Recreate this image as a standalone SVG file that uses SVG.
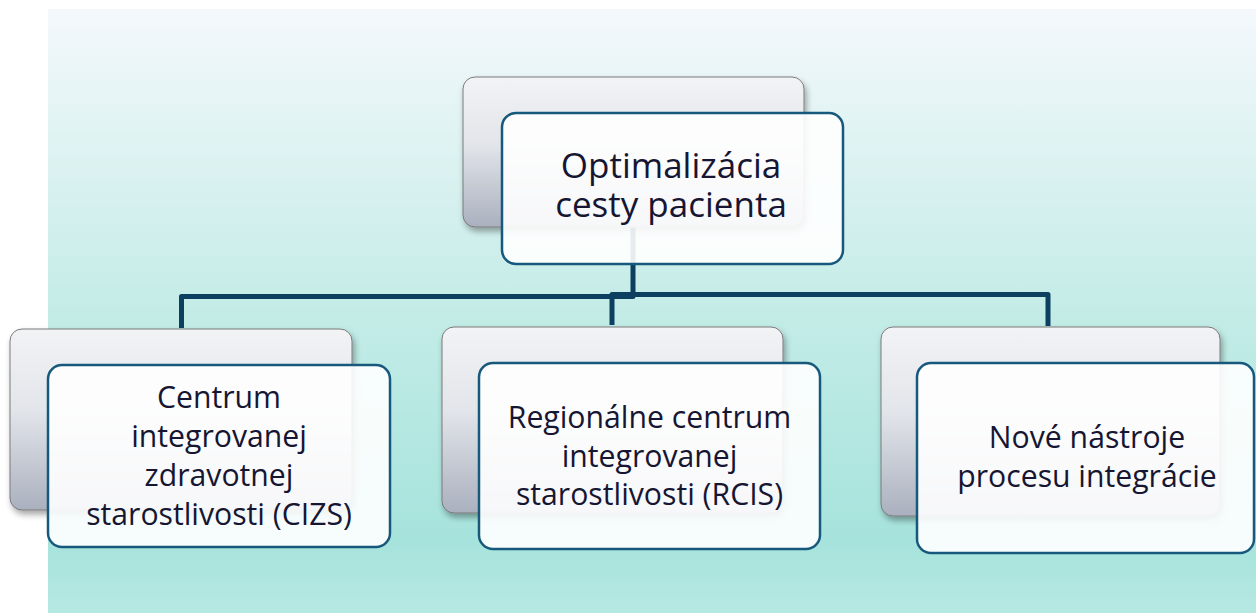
<svg xmlns="http://www.w3.org/2000/svg" width="1256" height="613" viewBox="0 0 1256 613">
  <defs>
    <linearGradient id="bg" x1="0" y1="0" x2="0" y2="1">
      <stop offset="0" stop-color="#f4f8fc"/>
      <stop offset="0.5" stop-color="#c4ece7"/>
      <stop offset="0.88" stop-color="#a6e3dc"/>
      <stop offset="1" stop-color="#b6e8e2"/>
    </linearGradient>
    <linearGradient id="backg" x1="0" y1="0" x2="0" y2="1">
      <stop offset="0" stop-color="#f2f3f5"/>
      <stop offset="0.45" stop-color="#e2e5ea"/>
      <stop offset="1" stop-color="#aab0be"/>
    </linearGradient>
    <filter id="sh" x="-10%" y="-10%" width="130%" height="130%">
      <feDropShadow dx="2" dy="4" stdDeviation="3" flood-color="#000" flood-opacity="0.35"/>
    </filter>
    <style>
      .back { fill: url(#backg); stroke: #7a7a7a; stroke-width: 1; filter: url(#sh); }
      .front { fill: #ffffff; fill-opacity: 0.9; stroke: #17597c; stroke-width: 2.5; }
      .t { font-family: "Open Sans", "Liberation Sans", sans-serif; fill: #161633; text-anchor: middle; }
      .t1 { font-size: 35px; }
      .t2 { font-size: 30.2px; }
      .conn { fill: none; stroke: #0d3f61; stroke-width: 5; stroke-linejoin: round; }
    </style>
  </defs>
  <rect x="0" y="0" width="1256" height="613" fill="#ffffff"/>
  <rect x="48" y="9" width="1208" height="604" fill="url(#bg)"/>

  <g id="connectors">
    <path class="conn" d="M633 227 V296.5 H181.5 V328"/>
    <path class="conn" d="M612 325 V294.5 H1048 V326"/>
  </g>

  <g id="node-root">
    <rect class="back" x="463" y="77" width="341" height="150" rx="12"/>
    <rect class="front" x="502" y="113" width="341" height="151" rx="14"/>
    <text class="t t1" x="671" y="178">Optimalizácia</text>
    <text class="t t1" x="671" y="217">cesty pacienta</text>
  </g>

  <g id="node-cizs">
    <rect class="back" x="10" y="329" width="342" height="181" rx="12"/>
    <rect class="front" x="48" y="365" width="342" height="182" rx="14"/>
    <text class="t t2" x="219" y="408">Centrum</text>
    <text class="t t2" x="219" y="447">integrovanej</text>
    <text class="t t2" x="219" y="486">zdravotnej</text>
    <text class="t t2" x="219" y="525">starostlivosti (CIZS)</text>
  </g>

  <g id="node-rcis">
    <rect class="back" x="442" y="327" width="341" height="186" rx="12"/>
    <rect class="front" x="479" y="363" width="341" height="186" rx="14"/>
    <text class="t t2" x="649.5" y="428">Regionálne centrum</text>
    <text class="t t2" x="649.5" y="467">integrovanej</text>
    <text class="t t2" x="649.5" y="505">starostlivosti (RCIS)</text>
  </g>

  <g id="node-tools">
    <rect class="back" x="881" y="327" width="339" height="189" rx="12"/>
    <rect class="front" x="917" y="363" width="337" height="190" rx="14"/>
    <text class="t t2" x="1087" y="448">Nové nástroje</text>
    <text class="t t2" x="1087" y="487">procesu integrácie</text>
  </g>
</svg>
